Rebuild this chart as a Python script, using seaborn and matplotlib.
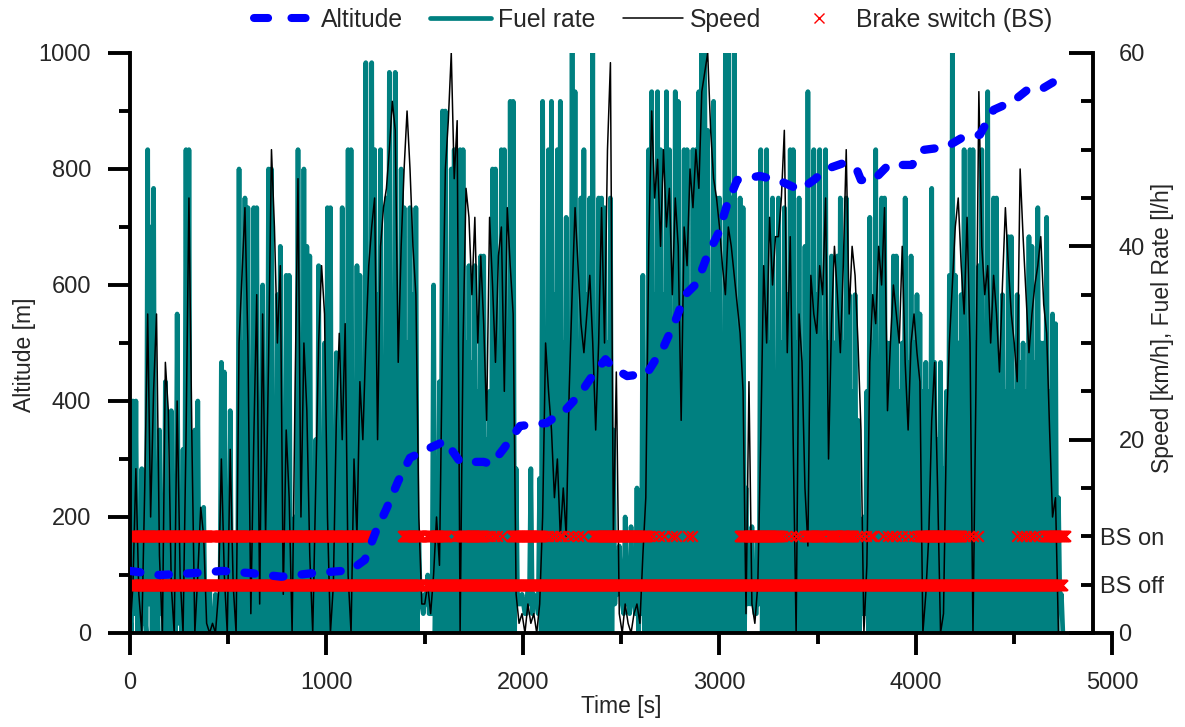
import numpy as np
import pandas as pd
import matplotlib
matplotlib.use("Agg")
import matplotlib.pyplot as plt
from matplotlib.lines import Line2D
from matplotlib.ticker import MultipleLocator, FixedLocator, FixedFormatter
import seaborn as sns

# Datos (muestreo cada 15 s)
sample_step = 15

# consumo: valor de pico en t = 15*i y valle en t = 15*i + 7.5
fuel_peak = [
    2, 24, 24, 3, 17, 2, 50, 42, 46, 6, 21, 4, 26, 3, 23, 2, 33, 5, 19, 50,
    50, 8, 21, 24, 3, 13, 2, 5, 1, 4, 2, 28, 27, 3, 23, 2, 10, 48, 30, 45,
    44, 5, 44, 44, 4, 36, 6, 48, 48, 10, 35, 40, 8, 37, 37, 4, 12, 50, 5, 48,
    40, 39, 3, 20, 38, 2, 30, 44, 44, 3, 29, 6, 44, 4, 50, 50, 2, 38, 37, 5,
    59, 30, 59, 50, 35, 50, 28, 45, 58, 30, 58, 25, 48, 44, 30, 44, 35, 44, 10, 3,
    4, 6, 2, 36, 10, 26, 54, 54, 30, 48, 50, 25, 50, 50, 30, 38, 28, 38, 25, 39,
    39, 20, 25, 48, 48, 25, 50, 50, 30, 55, 55, 17, 3, 4, 2, 5, 17, 4, 3, 16,
    55, 30, 50, 55, 35, 50, 55, 30, 43, 25, 60, 56, 30, 45, 50, 35, 45, 60, 30, 45,
    45, 44, 30, 45, 21, 6, 9, 3, 12, 4, 11, 3, 15, 5, 37, 25, 50, 56, 35, 56,
    50, 35, 56, 50, 30, 56, 55, 30, 50, 50, 35, 50, 50, 56, 60, 60, 52, 35, 55, 45,
    45, 30, 60, 60, 45, 60, 30, 45, 44, 15, 4, 11, 2, 10, 50, 25, 50, 30, 45, 25,
    45, 30, 44, 35, 50, 50, 30, 45, 28, 40, 56, 30, 50, 35, 50, 28, 50, 30, 39, 30,
    39, 45, 30, 45, 35, 25, 35, 22, 5, 12, 25, 43, 30, 50, 28, 45, 45, 30, 30, 39,
    39, 25, 30, 45, 28, 39, 30, 35, 33, 25, 28, 25, 46, 28, 20, 28, 17, 25, 37, 60,
    37, 30, 35, 50, 28, 50, 50, 30, 38, 50, 30, 56, 30, 45, 45, 28, 35, 25, 41, 41,
    25, 35, 28, 30, 25, 41, 40, 28, 44, 30, 30, 43, 25, 33, 32, 14, 4,
]
fuel_dip = [
    0, 2, 0, 0, 1, 0, 3, 0, 0, 0, 2, 0, 0, 0, 0, 0, 1, 0, 0, 0,
    0, 0, 0, 0, 0, 0, 0, 0, 0, 0, 0, 0, 0, 0, 0, 0, 0, 0, 0, 0,
    0, 0, 0, 0, 0, 0, 0, 0, 0, 0, 0, 0, 0, 0, 0, 0, 0, 0, 0, 0,
    0, 0, 0, 0, 0, 0, 0, 0, 0, 0, 0, 0, 0, 0, 0, 0, 0, 0, 0, 0,
    0, 0, 0, 0, 0, 0, 0, 0, 0, 0, 0, 0, 0, 0, 0, 0, 0, 0, 3, 2,
    3, 2, 2, 0, 0, 0, 0, 0, 0, 0, 0, 0, 0, 0, 0, 0, 0, 0, 0, 0,
    0, 0, 0, 0, 0, 0, 0, 0, 0, 0, 0, 3, 3, 3, 2, 3, 2, 3, 2, 0,
    0, 0, 0, 0, 0, 0, 0, 0, 0, 0, 0, 0, 0, 0, 0, 0, 0, 0, 0, 0,
    0, 0, 0, 0, 3, 4, 5, 2, 3, 2, 3, 2, 0, 2, 0, 0, 0, 0, 0, 0,
    0, 0, 0, 0, 0, 0, 0, 0, 0, 0, 0, 0, 0, 0, 0, 0, 0, 0, 0, 0,
    0, 0, 0, 0, 0, 0, 0, 0, 0, 3, 3, 4, 2, 3, 0, 0, 0, 0, 0, 0,
    0, 0, 0, 0, 0, 0, 0, 0, 0, 0, 0, 0, 0, 0, 0, 0, 0, 0, 0, 0,
    0, 0, 0, 0, 0, 0, 0, 0, 2, 2, 0, 0, 0, 0, 0, 0, 0, 0, 0, 0,
    0, 0, 0, 0, 0, 0, 0, 0, 0, 0, 0, 0, 0, 0, 0, 0, 0, 0, 0, 0,
    0, 0, 0, 0, 0, 0, 0, 0, 0, 0, 0, 0, 0, 0, 0, 0, 0, 0, 0, 0,
    0, 0, 0, 0, 0, 0, 0, 0, 0, 0, 0, 0, 0, 0, 0, 3, 0,
]

speed = [
    0, 5, 17, 4, 0, 15, 33, 12, 25, 33, 8, 0, 28, 23, 5, 0, 24, 6, 0, 20,
    45, 20, 0, 6, 13, 10, 1, 0, 1, 0, 4, 18, 6, 0, 19, 5, 0, 30, 37, 44,
    30, 2, 20, 35, 3, 33, 10, 28, 50, 42, 30, 38, 4, 21, 14, 0, 25, 47, 12, 30,
    23, 8, 0, 15, 30, 38, 33, 12, 0, 5, 22, 31, 20, 32, 6, 0, 18, 10, 26, 20,
    30, 38, 42, 45, 20, 40, 44, 46, 50, 55, 52, 28, 40, 48, 54, 48, 40, 35, 12, 3,
    3, 5, 2, 6, 12, 7, 30, 48, 53, 60, 47, 53, 0, 30, 46, 43, 35, 43, 30, 39,
    32, 22, 43, 36, 28, 39, 42, 25, 44, 38, 33, 4, 1, 2, 0, 3, 1, 2, 0, 3,
    12, 30, 25, 21, 14, 18, 10, 15, 10, 25, 35, 44, 38, 32, 29, 33, 37, 30, 21, 30,
    44, 30, 50, 59, 10, 27, 2, 0, 3, 1, 0, 2, 3, 1, 8, 14, 40, 54, 45, 49,
    40, 50, 42, 46, 35, 45, 40, 22, 42, 38, 48, 44, 50, 46, 56, 58, 60, 52, 47, 45,
    42, 38, 35, 42, 40, 37, 34, 31, 25, 2, 26, 3, 1, 5, 20, 38, 30, 43, 36, 41,
    41, 45, 52, 29, 41, 20, 0, 33, 28, 15, 9, 37, 33, 31, 38, 35, 45, 18, 32, 40,
    35, 29, 38, 50, 33, 40, 37, 30, 21, 0, 7, 28, 35, 32, 40, 36, 44, 23, 30, 36,
    33, 30, 40, 28, 21, 30, 33, 29, 26, 0, 4, 10, 22, 28, 15, 0, 2, 21, 30, 36,
    42, 45, 38, 33, 43, 30, 0, 25, 56, 40, 35, 38, 30, 37, 33, 27, 36, 44, 38, 33,
    30, 26, 48, 41, 35, 29, 33, 36, 38, 41, 34, 31, 21, 12, 14, 0, 0,
]

alt_time = [0, 150, 310, 470, 620, 770, 925, 1080, 1130, 1195, 1250, 1305, 1365,
            1425, 1525, 1605, 1680, 1800, 1840, 1900, 1985, 2120, 2220, 2290,
            2360, 2420, 2460, 2530, 2630, 2715, 2775, 2825, 2885, 2935, 2995,
            3040, 3090, 3205, 3310, 3410, 3480, 3545, 3630, 3700, 3720, 3785,
            3860, 3980, 4040, 4155, 4240, 4325, 4395, 4495, 4565, 4630, 4710]
altitude = [107, 100, 103, 107, 103, 97, 103, 107, 110, 126, 174, 214, 262,
            302, 319, 331, 295, 295, 291, 317, 357, 362, 386, 412,
            447, 472, 457, 443, 447, 493, 538, 583, 603, 648, 690,
            740, 781, 788, 779, 764, 781, 800, 810, 798, 781, 781,
            807, 807, 833, 838, 855, 859, 902, 917, 936, 936, 952]

# Freno: intervalos (s) en que el interruptor esta en on / off
bs_off_spans = [(0, 1488), (1504, 4745)]
bs_on_spans = [(0, 150), (160, 330), (345, 440), (455, 620), (635, 760),
               (770, 900), (910, 1060), (1070, 1210), (1390, 1485), (1510, 1612),
               (1688, 1798), (1943, 2095), (2358, 2630), (3104, 3308),
               (3443, 3528), (3554, 3600), (3620, 3681), (4020, 4156),
               (4170, 4230), (4656, 4758)]
bs_on_single = [1654, 1668, 1680, 1815, 1832, 1850, 1870, 1892, 2110, 2125,
                2150, 2170, 2190, 2200, 2230, 2255, 2280, 2305, 2640, 2660,
                2690, 2720, 2760, 2780, 2840, 2860, 3320, 3340, 3365, 3390,
                3410, 3435, 3700, 3720, 3745, 3770, 3783, 3830, 3860, 3880,
                3900, 3930, 3960, 3990, 4010, 4250, 4270, 4290, 4317, 4515,
                4540, 4560, 4580, 4600, 4625]
bs_off_level = 5
bs_on_level = 10

time_s = np.arange(len(speed)) * sample_step
df_speed = pd.DataFrame({"t": time_s, "speed": speed})
df_fuel = pd.DataFrame({
    "t": np.column_stack([time_s, time_s + sample_step / 2]).ravel(),
    "fuel": np.column_stack([fuel_peak, fuel_dip]).ravel(),
})

off_t = np.concatenate([np.arange(a, b + 1, 2) for a, b in bs_off_spans])
on_t = np.concatenate([np.arange(a, b + 1, 2) for a, b in bs_on_spans] + [np.array(bs_on_single)])
bs = pd.DataFrame({
    "t": np.concatenate([off_t, on_t]),
    "state": [bs_off_level] * len(off_t) + [bs_on_level] * len(on_t),
})

sns.set_style("ticks")
plt.rcParams["font.family"] = ["Liberation Sans", "DejaVu Sans"]

teal = "#008080"
alt_dash = (0, (1.25, 2.2))
fig = plt.figure(figsize=(11.85, 7.27), dpi=100)
ax = fig.add_axes([0.1097, 0.1293, 0.8291, 0.7978])
ax2 = ax.twinx()

sns.lineplot(data=df_fuel, x="t", y="fuel", ax=ax2, color=teal, linewidth=3.4,
             estimator=None, sort=False, legend=False, zorder=1)
sns.lineplot(data=df_speed, x="t", y="speed", ax=ax2, color="black", linewidth=1.1,
             estimator=None, sort=False, legend=False, zorder=2)
sns.scatterplot(data=bs, x="t", y="state", ax=ax2, marker="x", color="red",
                s=58, linewidth=1.5, legend=False, zorder=3)
sns.lineplot(x=alt_time, y=altitude, ax=ax, color="blue", linewidth=6,
             linestyle=alt_dash, dash_capstyle="round",
             estimator=None, sort=False, legend=False, zorder=5)

ax.set_zorder(ax2.get_zorder() + 1)
ax.patch.set_visible(False)

# ejes
ax.set_xlim(0, 5000)
ax.set_ylim(0, 1000)
ax2.set_ylim(0, 60)
ax.xaxis.set_major_locator(MultipleLocator(1000))
ax.xaxis.set_minor_locator(MultipleLocator(500))
ax.yaxis.set_major_locator(MultipleLocator(200))
ax.yaxis.set_minor_locator(MultipleLocator(100))

ax2.yaxis.set_major_locator(FixedLocator([0, 20, 40, 60]))
minor_pos = [5, 10, 15, 25, 30, 35, 45, 50, 55]
ax2.yaxis.set_minor_locator(FixedLocator(minor_pos))
ax2.yaxis.set_minor_formatter(FixedFormatter(["BS off", "BS on"] + [""] * 7))

for side in ["top", "right"]:
    ax.spines[side].set_visible(False)
for side in ["top", "left", "bottom"]:
    ax2.spines[side].set_visible(False)
ax2.spines["right"].set_position(("data", 4900))
for sp in [ax.spines["left"], ax.spines["bottom"], ax2.spines["right"]]:
    sp.set_linewidth(2.8)
    sp.set_color("black")

ax.tick_params(which="major", direction="out", length=16, width=2.8,
               labelsize=17, pad=12, color="black")
ax.tick_params(which="minor", direction="out", length=8, width=2.8, color="black")
ax2.tick_params(axis="y", which="major", direction="in", length=17, width=2.8,
                labelsize=17, pad=18.5, color="black")
ax2.tick_params(axis="y", which="minor", direction="in", length=8.5, width=2.8,
                labelsize=17, pad=5, color="black")

ax.set_xlabel("Time [s]", fontsize=16.5, labelpad=1)
ax.set_ylabel("Altitude [m]", fontsize=16.5)
ax2.set_ylabel("Speed [km/h], Fuel Rate [l/h]", fontsize=16.5)
ax.yaxis.set_label_coords(-0.096, 0.479)
ax2.yaxis.set_label_coords(1.039, 0.526)

handles = [
    Line2D([], [], color="blue", lw=5.8, linestyle=(0, (1.75, 2.9)), dash_capstyle="round"),
    Line2D([], [], color=teal, lw=3.4),
    Line2D([], [], color="black", lw=1.1),
    Line2D([], [], color="red", lw=0, marker="x", markersize=7, markeredgewidth=1.0),
]
labels = ["Altitude", "Fuel rate", "Speed", "Brake switch (BS)"]
fig.legend(handles, labels, ncol=4, loc="center", bbox_to_anchor=(0.551, 0.9725),
           frameon=False, fontsize=17.8, handlelength=2.43, handletextpad=0.3,
           columnspacing=1.1, borderpad=0.2)

fig.savefig("out.png", dpi=100)
